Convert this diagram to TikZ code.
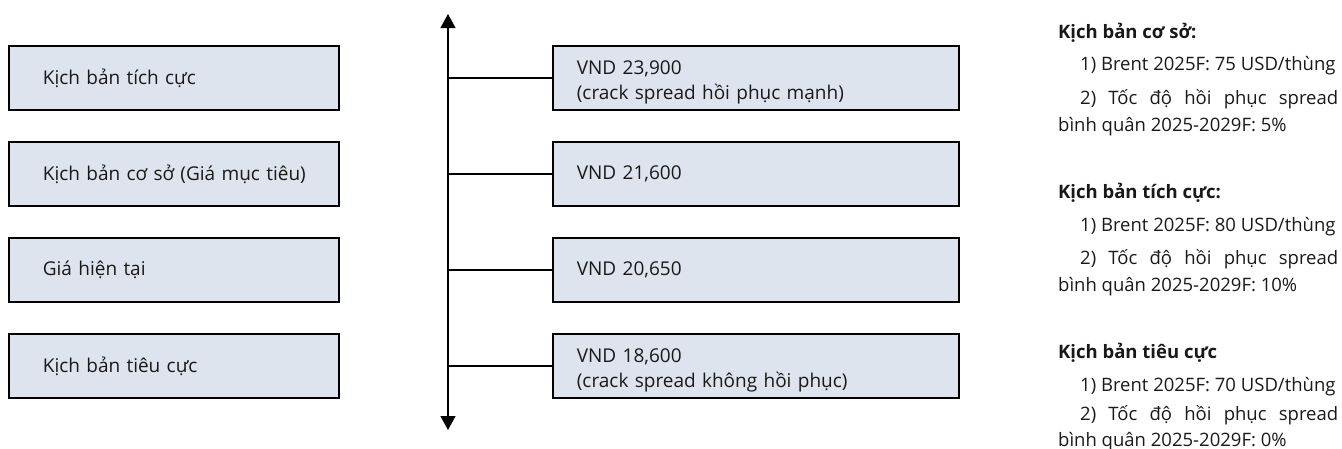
\documentclass[tikz,border=0pt]{standalone}
\usepackage{fontspec}
\setmainfont{Open Sans}
\usetikzlibrary{arrows.meta}
\definecolor{boxfill}{RGB}{222,228,238}
\definecolor{ink}{RGB}{25,25,25}
\begin{document}
\begin{tikzpicture}[x=1pt,y=-1pt,
  leftbox/.style={draw=black, line width=1.7pt, fill=boxfill, anchor=north west,
    minimum width=330pt, minimum height=64pt, inner xsep=34pt, text width=262pt,
    align=left, text=ink, font=\fontsize{19}{25}\selectfont},
  valbox/.style={draw=black, line width=1.7pt, fill=boxfill, anchor=north west,
    minimum width=406pt, minimum height=64pt, inner xsep=24pt, text width=358pt,
    align=left, text=ink, font=\fontsize{19}{25}\selectfont},
  axisline/.style={line width=1.2pt, draw=black},
  link/.style={line width=1.4pt, draw=black},
  note/.style={anchor=base west, inner sep=0pt, text=ink, font=\fontsize{18.5}{24}\selectfont},
  head/.style={note, font=\fontsize{18.5}{24}\selectfont\bfseries}
]
\useasboundingbox (0,0) rectangle (1342,448);

% left boxes
\node[leftbox] (l1) at (8,45) {Kịch bản tích cực};
\node[leftbox] (l2) at (8,141) {\mbox{Kịch bản cơ sở (Giá mục tiêu)}};
\node[leftbox] (l3) at (8,237) {Giá hiện tại};
\node[leftbox] (l4) at (8,333) {Kịch bản tiêu cực};

% value boxes
\node[valbox] (v1) at (552,45) {\rule{0pt}{22pt}VND 23,900\\(crack spread hồi phục mạnh)};
\node[valbox] (v2) at (552,141) {VND 21,600};
\node[valbox] (v3) at (552,237) {VND 20,650};
\node[valbox] (v4) at (552,333) {\rule{0pt}{22pt}VND 18,600\\(crack spread không hồi phục)};

% axis
\coordinate (top) at (448,14);
\coordinate (bot) at (448,430);
\draw[axisline, {Triangle[width=15pt,length=14pt]}-{Triangle[width=15pt,length=14pt]}] (bot) -- (top);
\foreach \v in {v1,v2,v3,v4}
  \draw[link] (\v.west) -- (\v.west -| top);

% notes
\node[head] (h1) at (1058,38) {Kịch bản cơ sở:};
\node[note] (a1) at (1080,70) {1) Brent 2025F: 75 USD/thùng};
\node[note] (b1) at (1080,104) {\makebox[258pt][s]{2) Tốc độ hồi phục spread}};
\node[note] (c1) at (1058,131) {bình quân 2025-2029F: 5\%};

\node[head] (h2) at (1058,198) {Kịch bản tích cực:};
\node[note] (a2) at (1080,231) {1) Brent 2025F: 80 USD/thùng};
\node[note] (b2) at (1080,264) {\makebox[258pt][s]{2) Tốc độ hồi phục spread}};
\node[note] (c2) at (1058,291) {bình quân 2025-2029F: 10\%};

\node[head] (h3) at (1058,358) {Kịch bản tiêu cực};
\node[note] (a3) at (1080,391) {1) Brent 2025F: 70 USD/thùng};
\node[note] (b3) at (1080,420) {\makebox[258pt][s]{2) Tốc độ hồi phục spread}};
\node[note] (c3) at (1058,446) {bình quân 2025-2029F: 0\%};
\end{tikzpicture}
\end{document}
